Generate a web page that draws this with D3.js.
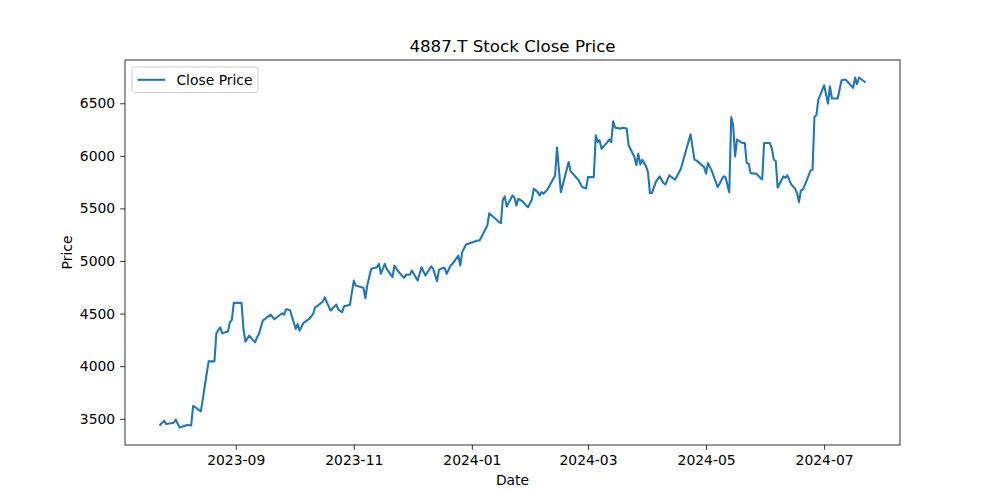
<!DOCTYPE html>
<html>
<head>
<meta charset="utf-8">
<script src="https://cdn.jsdelivr.net/npm/d3@7"></script>
<style>
  body { margin: 0; background: #fff; }
  svg { font-family: "DejaVu Sans", sans-serif; }
</style>
</head>
<body>
<svg id="chart" width="1000" height="500"></svg>
<script>
// close prices
const dates = [
  "2023-07-24","2023-07-26","2023-07-27","2023-07-31","2023-08-01","2023-08-03","2023-08-07","2023-08-09","2023-08-10","2023-08-14",
  "2023-08-18","2023-08-21","2023-08-22","2023-08-24","2023-08-25","2023-08-28","2023-08-29","2023-08-30","2023-08-31","2023-09-04",
  "2023-09-05","2023-09-06","2023-09-08","2023-09-11","2023-09-12","2023-09-13","2023-09-15","2023-09-19","2023-09-21","2023-09-25",
  "2023-09-26","2023-09-27","2023-09-29","2023-10-02","2023-10-03","2023-10-04","2023-10-06","2023-10-09","2023-10-11","2023-10-12",
  "2023-10-13","2023-10-16","2023-10-17","2023-10-20","2023-10-23","2023-10-24","2023-10-26","2023-10-27","2023-10-30","2023-11-01",
  "2023-11-02","2023-11-06","2023-11-07","2023-11-08","2023-11-10","2023-11-13","2023-11-14","2023-11-15","2023-11-17","2023-11-18",
  "2023-11-21","2023-11-22","2023-11-24","2023-11-27","2023-11-28","2023-11-30","2023-12-01","2023-12-04","2023-12-06","2023-12-08",
  "2023-12-11","2023-12-12","2023-12-14","2023-12-15","2023-12-17","2023-12-18","2023-12-19","2023-12-21","2023-12-22","2023-12-25",
  "2023-12-26","2023-12-27","2023-12-29","2024-01-04","2024-01-05","2024-01-09","2024-01-10","2024-01-15","2024-01-16","2024-01-17",
  "2024-01-18","2024-01-19","2024-01-22","2024-01-23","2024-01-24","2024-01-25","2024-01-27","2024-01-30","2024-02-01","2024-02-02",
  "2024-02-04","2024-02-05","2024-02-06","2024-02-07","2024-02-09","2024-02-13","2024-02-14","2024-02-16","2024-02-20","2024-02-21",
  "2024-02-25","2024-02-27","2024-02-29","2024-03-01","2024-03-04","2024-03-05","2024-03-06","2024-03-07","2024-03-08","2024-03-11",
  "2024-03-12","2024-03-13","2024-03-14","2024-03-15","2024-03-18","2024-03-19","2024-03-21","2024-03-22","2024-03-25","2024-03-26",
  "2024-03-27","2024-03-28","2024-03-29","2024-03-31","2024-04-01","2024-04-02","2024-04-03","2024-04-05","2024-04-07","2024-04-09",
  "2024-04-10","2024-04-12","2024-04-15","2024-04-18","2024-04-23","2024-04-25","2024-04-26","2024-04-30","2024-05-01","2024-05-02",
  "2024-05-04","2024-05-07","2024-05-08","2024-05-10","2024-05-11","2024-05-13","2024-05-14","2024-05-15","2024-05-16","2024-05-17",
  "2024-05-19","2024-05-20","2024-05-21","2024-05-22","2024-05-23","2024-05-24","2024-05-27","2024-05-29","2024-05-30","2024-05-31",
  "2024-06-03","2024-06-04","2024-06-05","2024-06-06","2024-06-07","2024-06-08","2024-06-10","2024-06-11","2024-06-12","2024-06-14",
  "2024-06-16","2024-06-17","2024-06-18","2024-06-19","2024-06-20","2024-06-22","2024-06-24","2024-06-25","2024-06-26","2024-06-27",
  "2024-06-28","2024-07-01","2024-07-03","2024-07-04","2024-07-05","2024-07-08","2024-07-10","2024-07-12","2024-07-16","2024-07-17",
  "2024-07-18","2024-07-19","2024-07-22"
];
const closes = [
  3443,3481,3450,3462,3493,3417,3440,3436,3624,3570,
  4046,4046,4313,4370,4313,4329,4417,4440,4602,4602,
  4354,4233,4290,4227,4275,4306,4433,4490,4446,4503,
  4490,4541,4535,4354,4400,4338,4411,4449,4497,4560,
  4570,4614,4655,4529,4586,4538,4513,4570,4583,4814,
  4767,4745,4646,4773,4926,4941,4973,4878,4973,4926,
  4846,4957,4900,4840,4871,4869,4910,4814,4941,4862,
  4950,4926,4808,4916,4935,4932,4878,4957,4973,5052,
  4957,5084,5157,5195,5195,5338,5455,5370,5360,5583,
  5614,5519,5624,5602,5529,5592,5570,5512,5583,5688,
  5655,5624,5655,5640,5678,5814,6078,5655,5941,5855,
  5773,5703,5690,5798,5798,6195,6131,6148,6068,6131,
  6154,6131,6329,6268,6259,6268,6259,6100,5989,5910,
  6021,5919,5964,5900,5846,5646,5646,5750,5805,5741,
  5729,5814,5773,5878,6205,5964,5957,5893,5830,5932,
  5855,5703,5735,5805,5798,5655,6370,6290,5995,6154,
  6131,6122,6122,5932,5926,5836,5830,5792,5776,6122,
  6122,6068,5964,5951,5697,5735,5805,5792,5814,5729,
  5688,5646,5560,5671,5678,5767,5862,5868,6370,6386,
  6535,6671,6497,6662,6545,6545,6719,6726,6646,6745,
  6681,6745,6703
];
const xTickDates = ["2023-09-01","2023-11-01","2024-01-01","2024-03-01","2024-05-01","2024-07-01"];
const yTickValues = [3500, 4000, 4500, 5000, 5500, 6000, 6500];

const parse = d3.timeParse("%Y-%m-%d");
const data = dates.map((d, i) => ({ date: parse(d), close: closes[i] }));

const margin = { top: 60, right: 100, bottom: 55, left: 125 };
const width = 1000 - margin.left - margin.right;
const height = 500 - margin.top - margin.bottom;

const svg = d3.select("#chart")
  .append("g")
  .attr("transform", `translate(${margin.left},${margin.top})`);

// matplotlib style 5% padding
const [t0, t1] = d3.extent(data, d => d.date);
const tPad = (t1 - t0) * 0.05;
const xScale = d3.scaleTime()
  .domain([new Date(+t0 - tPad), new Date(+t1 + tPad)])
  .range([0, width]);

const [v0, v1] = d3.extent(data, d => d.close);
const vPad = (v1 - v0) * 0.05;
const yScale = d3.scaleLinear()
  .domain([v0 - vPad, v1 + vPad])
  .range([height, 0]);

// x-axis
const xAxis = svg.append("g")
  .attr("transform", `translate(0,${height})`)
  .call(d3.axisBottom(xScale)
    .tickValues(xTickDates.map(parse))
    .tickFormat(d3.timeFormat("%Y-%m"))
    .tickSizeInner(4.9).tickSizeOuter(0).tickPadding(4.9));

// y-axis
const yAxis = svg.append("g")
  .call(d3.axisLeft(yScale)
    .tickValues(yTickValues)
    .tickFormat(d3.format("d"))
    .tickSizeInner(4.9).tickSizeOuter(0).tickPadding(4.9));

[xAxis, yAxis].forEach(ax => {
  ax.select(".domain").remove();
  ax.selectAll(".tick line").attr("stroke", "#000").attr("stroke-width", 0.8);
  ax.selectAll(".tick text")
    .attr("fill", "#000")
    .style("font-family", "'DejaVu Sans', sans-serif")
    .style("font-size", "13.9px");
});

// line
const line = d3.line()
  .x(d => xScale(d.date))
  .y(d => yScale(d.close));

svg.append("path")
  .datum(data)
  .attr("fill", "none")
  .attr("stroke", "#1f77b4")
  .attr("stroke-width", 2.08)
  .attr("stroke-linejoin", "round")
  .attr("stroke-linecap", "square")
  .attr("d", line);

// frame
svg.append("rect")
  .attr("width", width)
  .attr("height", height)
  .attr("fill", "none")
  .attr("stroke", "#000")
  .attr("stroke-width", 0.8);

// title + labels
svg.append("text")
  .attr("x", width / 2)
  .attr("y", -8.5)
  .attr("text-anchor", "middle")
  .style("font-size", "16.7px")
  .text("4887.T Stock Close Price");

svg.append("text")
  .attr("x", width / 2)
  .attr("y", height + 40)
  .attr("text-anchor", "middle")
  .style("font-size", "13.9px")
  .text("Date");

svg.append("text")
  .attr("transform", "rotate(-90)")
  .attr("x", -height / 2)
  .attr("y", -53)
  .attr("text-anchor", "middle")
  .style("font-size", "13.9px")
  .text("Price");

// legend
const legend = svg.append("g").attr("transform", "translate(7,7)");
legend.append("rect")
  .attr("width", 126)
  .attr("height", 25.5)
  .attr("rx", 2.8)
  .attr("fill", "#fff")
  .attr("fill-opacity", 0.8)
  .attr("stroke", "#cccccc")
  .attr("stroke-width", 1);
legend.append("line")
  .attr("x1", 5.5).attr("x2", 33.3)
  .attr("y1", 12.8).attr("y2", 12.8)
  .attr("stroke", "#1f77b4")
  .attr("stroke-width", 2.08);
legend.append("text")
  .attr("x", 44.4)
  .attr("y", 17.5)
  .style("font-size", "13.9px")
  .text("Close Price");
</script>
</body>
</html>
